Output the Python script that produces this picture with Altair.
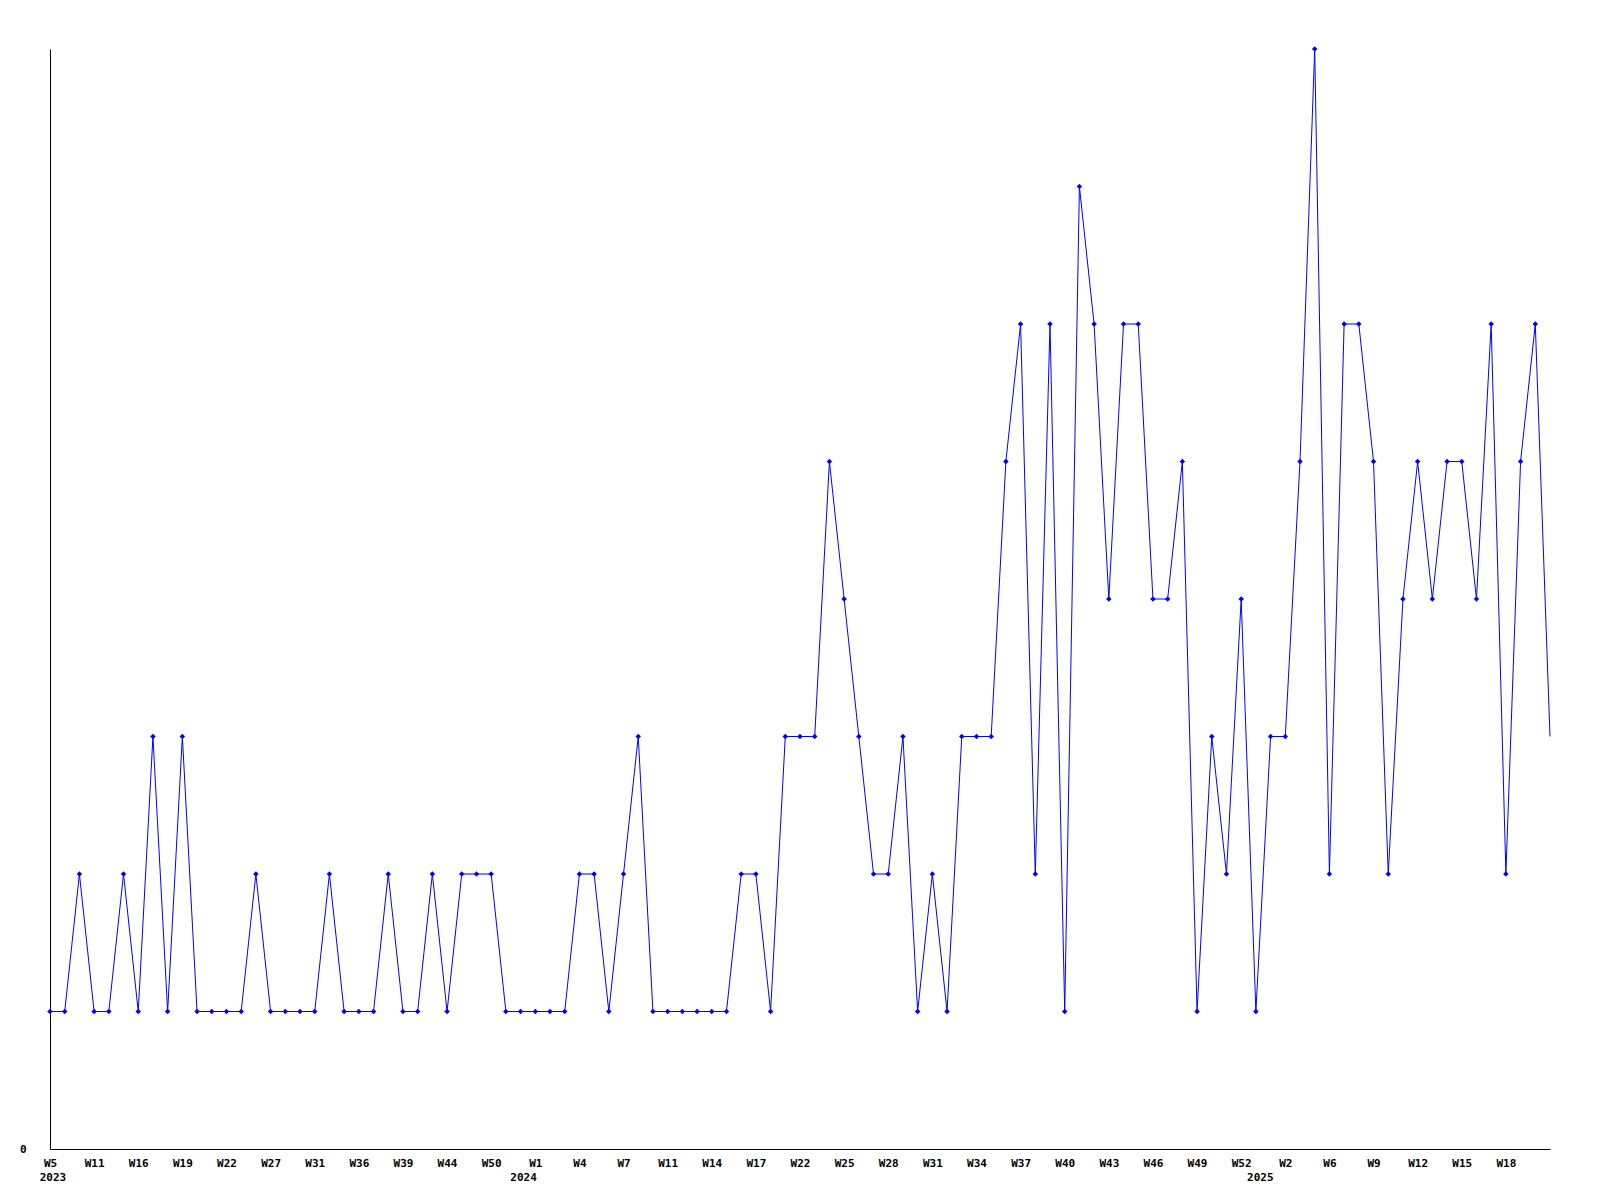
import altair as alt
import pandas as pd

# Values per point (one per weekly sample, left to right)
values = [
    1, 1, 2, 1, 1, 2, 1, 3, 1, 3,
    1, 1, 1, 1, 2, 1, 1, 1, 1, 2,
    1, 1, 1, 2, 1, 1, 2, 1, 2, 2,
    2, 1, 1, 1, 1, 1, 2, 2, 1, 2,
    3, 1, 1, 1, 1, 1, 1, 2, 2, 1,
    3, 3, 3, 5, 4, 3, 2, 2, 3, 1,
    2, 1, 3, 3, 3, 5, 6, 2, 6, 1,
    7, 6, 4, 6, 6, 4, 4, 5, 1, 3,
    2, 4, 1, 3, 3, 5, 8, 2, 6, 6,
    5, 2, 4, 5, 4, 5, 5, 4, 6, 2,
    5, 6, 3,
]

# Tick labels shown on every third point
tick_labels = [
    "W5", "W11", "W16", "W19", "W22", "W27", "W31", "W36", "W39", "W44", "W50",
    "W1", "W4", "W7", "W11", "W14", "W17", "W22", "W25", "W28", "W31", "W34",
    "W37", "W40", "W43", "W46", "W49", "W52",
    "W2", "W6", "W9", "W12", "W15", "W18",
]
tick_step = 3

# Year labels and where they sit along the point index
years = ["2023", "2024", "2025"]
year_pos = [0.2, 32.2, 82.3]

W, H = 1500, 1100
FONT = "DejaVu Sans Mono"
BLUE = "#0000ff"

df = pd.DataFrame({"i": list(range(len(values))), "v": values})
ydf = pd.DataFrame({"year": years, "pos": year_pos})

tick_vals = [k * tick_step for k in range(len(tick_labels))]
label_arr = "[" + ",".join("'" + t + "'" for t in tick_labels) + "]"
label_expr = f"{label_arr}[round(datum.value / {tick_step})]"

xscale = alt.Scale(domain=[0, len(values) - 1], nice=False, zero=False)
yscale = alt.Scale(domain=[0, 8], nice=False)

x_axis = alt.Axis(
    values=tick_vals, labelExpr=label_expr, ticks=False, grid=False,
    domainColor="black", domainWidth=1, labelFont=FONT, labelFontWeight="bold",
    labelFontSize=11, labelColor="black", labelPadding=8, title=None,
    labelOverlap=False, labelFlush=False,
)
y_axis = alt.Axis(
    values=[0], format="d", ticks=False, grid=False, domainColor="black", domainWidth=1,
    labelFont=FONT, labelFontWeight="bold", labelFontSize=11, labelColor="black",
    labelPadding=24, title=None,
)

base = alt.Chart(df)
line = base.mark_line(color=BLUE, strokeWidth=1).encode(
    x=alt.X("i:Q", scale=xscale, axis=x_axis),
    y=alt.Y("v:Q", scale=yscale, axis=y_axis),
)
pts = base.transform_filter(f"datum.i < {len(values) - 1}").mark_point(
    shape="diamond", filled=True, color=BLUE, size=30, opacity=1
).encode(
    x=alt.X("i:Q", scale=xscale),
    y=alt.Y("v:Q", scale=yscale),
)
year_text = alt.Chart(ydf).mark_text(
    font=FONT, fontWeight="bold", fontSize=11, color="black",
    align="center", baseline="middle",
).encode(
    x=alt.X("pos:Q", scale=xscale),
    y=alt.value(H + 29),
    text="year:N",
)

chart = alt.layer(line, pts, year_text).properties(
    width=W, height=H,
    background="white",
    autosize=alt.AutoSizeParams(type="none"),
    padding={"left": 42, "top": 41, "right": 30, "bottom": 50},
).configure_view(strokeWidth=0, stroke="transparent")

chart.save("out.html", embed_options={"renderer": "svg", "actions": False})
